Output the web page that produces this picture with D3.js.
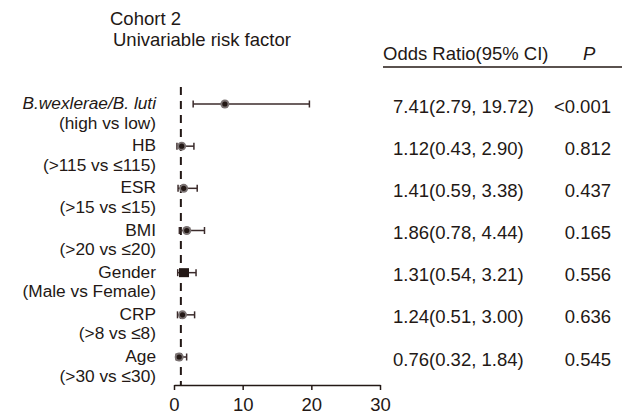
<!DOCTYPE html>
<html><head><meta charset="utf-8">
<script src="https://cdn.jsdelivr.net/npm/d3@7"></script>
<style>body{margin:0;background:#fff}svg{display:block}text{font-family:"Liberation Sans",Arial,sans-serif;fill:#231815}</style>
</head><body>
<svg id="c" width="622" height="414"></svg>
<script>
const labels = ["B.wexlerae/B. luti","HB","ESR","BMI","Gender","CRP","Age"];
const subLabels = ["(high vs low)","(>115 vs \u2264115)","(>15 vs \u226415)","(>20 vs \u226420)","(Male vs Female)","(>8 vs \u22648)","(>30 vs \u226430)"];
const oddsRatio = [7.41,1.12,1.41,1.86,1.31,1.24,0.76];
const ciLow = [2.79,0.43,0.59,0.78,0.54,0.51,0.32];
const ciHigh = [19.72,2.90,3.38,4.44,3.21,3.00,1.84];
const ciText = ["7.41(2.79, 19.72)","1.12(0.43, 2.90)","1.41(0.59, 3.38)","1.86(0.78, 4.44)","1.31(0.54, 3.21)","1.24(0.51, 3.00)","0.76(0.32, 1.84)"];
const pValues = ["<0.001","0.812","0.437","0.165","0.556","0.636","0.545"];
const xTicks = [0,10,20,30];
const refValue = 1;

const svg = d3.select("#c");
const ink = "#231815";
const fs = "18.5px";
const fsLab = "17.3px";
const x = d3.scaleLinear().domain([0,30]).range([174,380]);
const y = d3.scalePoint().domain(labels).range([104,357]);
const axisY = 385;

// titles
svg.append("text").attr("x",110).attr("y",25).style("font-size",fs).text("Cohort 2");
svg.append("text").attr("x",113).attr("y",45.5).style("font-size",fs).text("Univariable risk factor");

// header
svg.append("text").attr("x",383).attr("y",60).style("font-size",fs).text("Odds Ratio(95% CI)");
svg.append("text").attr("x",583).attr("y",60).style("font-size",fs).style("font-style","italic").text("P");
svg.append("line").attr("x1",383).attr("x2",622).attr("y1",67).attr("y2",67).attr("stroke",ink).attr("stroke-width",1.5);

// reference dashed line
svg.append("line").attr("x1",x(refValue)).attr("x2",x(refValue)).attr("y1",87).attr("y2",axisY)
  .attr("stroke",ink).attr("stroke-width",2).attr("stroke-dasharray","8,6");

// axis
const ax = svg.append("g").attr("transform",`translate(0,${axisY})`)
  .call(d3.axisBottom(x).tickValues(xTicks).tickSize(5).tickSizeOuter(0).tickPadding(8));
ax.select(".domain").attr("stroke",ink).attr("stroke-width",1.5);
ax.selectAll(".tick line").attr("stroke",ink).attr("stroke-width",1.5);
ax.selectAll(".tick text").style("font-size",fs).attr("fill",ink).style("font-family","Liberation Sans, Arial, sans-serif");

const rows = labels.map((l,i)=>({l,sub:subLabels[i],or:oddsRatio[i],lo:ciLow[i],hi:ciHigh[i],ci:ciText[i],p:pValues[i],i}));
const g = svg.append("g");
rows.forEach(d=>{
  const yy = y(d.l);
  // labels
  g.append("text").attr("x",156).attr("y",yy+5).attr("text-anchor","end").style("font-size",fsLab)
    .style("font-style",d.i===0?"italic":"normal").text(d.l);
  g.append("text").attr("x",156).attr("y",yy+24.5).attr("text-anchor","end").style("font-size",fsLab).text(d.sub);
  // CI
  g.append("line").attr("x1",x(d.lo)).attr("x2",x(d.hi)).attr("y1",yy).attr("y2",yy).attr("stroke","#3b2b2b").attr("stroke-width",1.5);
  [d.lo,d.hi].forEach(v=>g.append("line").attr("x1",x(v)).attr("x2",x(v)).attr("y1",yy-3.5).attr("y2",yy+3.5).attr("stroke","#3b2b2b").attr("stroke-width",1.5));
  if(d.l==="Gender"){
    g.append("rect").attr("x",x(d.or)-4).attr("y",yy-4.5).attr("width",10).attr("height",9).attr("fill",ink);
  } else {
    g.append("circle").attr("cx",x(d.or)).attr("cy",yy).attr("r",4.5).attr("fill","#7a7272");
    g.append("circle").attr("cx",x(d.or)).attr("cy",yy).attr("r",2.6).attr("fill",ink);
  }
  // columns
  g.append("text").attr("x",393).attr("y",yy+8.5).style("font-size",fs).text(d.ci);
  g.append("text").attr("x",611).attr("y",yy+8.5).attr("text-anchor","end").style("font-size",fs).text(d.p);
});
</script>
</body></html>
